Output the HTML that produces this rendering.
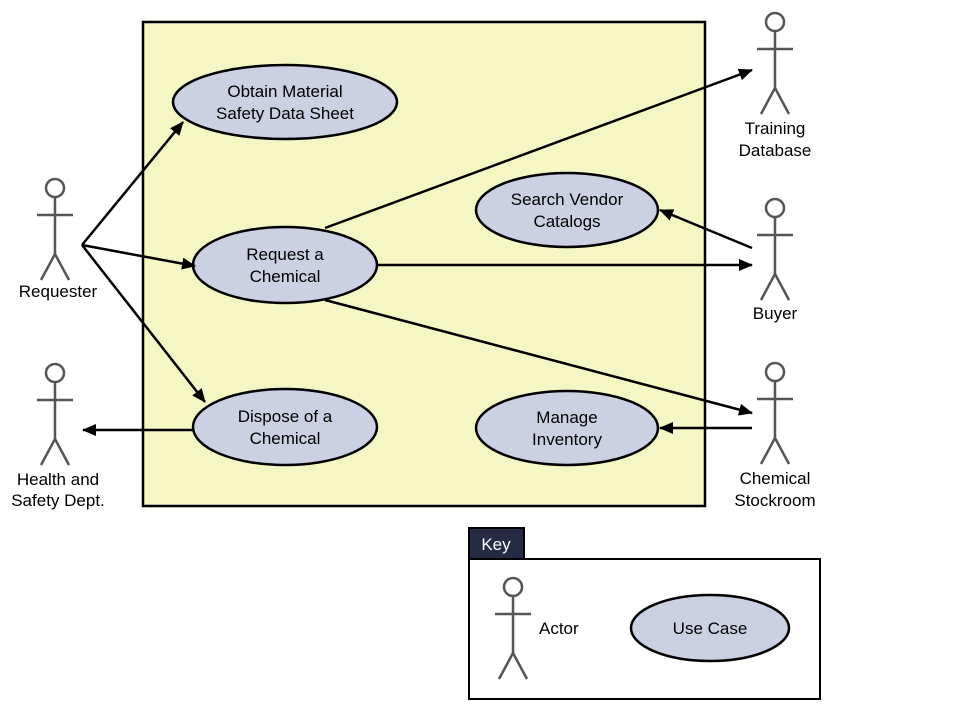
<!DOCTYPE html>
<html><head><meta charset="utf-8"><style>body{margin:0;background:#fff}svg{display:block}</style></head><body>
<svg width="972" height="717" viewBox="0 0 972 717" xmlns="http://www.w3.org/2000/svg" font-family="Liberation Sans, sans-serif" font-size="17">
<defs><marker id="a" markerWidth="10" markerHeight="10" refX="9" refY="5" orient="auto" markerUnits="userSpaceOnUse" viewBox="0 0 10 10"><path d="M0,0 L10,5 L0,10 z" fill="#000"/></marker>
<marker id="ah" markerWidth="14" markerHeight="12" refX="13" refY="6" orient="auto" markerUnits="userSpaceOnUse"><path d="M0,0 L14,6 L0,12 z" fill="#000"/></marker>
<g id="actor" stroke="#555" stroke-width="2.5" fill="none"><circle cx="0" cy="0" r="9"/><line x1="0" y1="9" x2="0" y2="66"/><line x1="-18" y1="27" x2="18" y2="27"/><line x1="0" y1="66" x2="-14" y2="92"/><line x1="0" y1="66" x2="14" y2="92"/></g></defs>
<rect x="143" y="22" width="562" height="484" fill="#f4f6c4" stroke="#000" stroke-width="2.5"/>
<g fill="#ccd0e3" stroke="#000" stroke-width="2.5">
<ellipse cx="285" cy="102" rx="112" ry="37"/><ellipse cx="285" cy="265" rx="92" ry="38"/><ellipse cx="285" cy="427" rx="92" ry="38"/>
<ellipse cx="567" cy="210" rx="91" ry="37"/><ellipse cx="567" cy="428" rx="91" ry="37"/></g>
<g stroke="#000" stroke-width="2.5" marker-end="url(#ah)">
<line x1="82" y1="245" x2="183" y2="122"/><line x1="82" y1="245" x2="195" y2="266"/><line x1="82" y1="245" x2="205" y2="402"/>
<line x1="325" y1="228" x2="752" y2="70"/><line x1="378" y1="265" x2="752" y2="265"/><line x1="325" y1="300" x2="752" y2="413"/>
<line x1="752" y1="248" x2="660" y2="210"/><line x1="752" y1="428" x2="660" y2="428"/><line x1="193" y1="430" x2="83" y2="430"/></g>
<use href="#actor" x="55" y="188"/><use href="#actor" x="55" y="373"/><use href="#actor" x="775" y="22"/><use href="#actor" x="775" y="208"/><use href="#actor" x="775" y="372"/>
<g text-anchor="middle" fill="#000">
<text x="285" y="97">Obtain Material</text><text x="285" y="119">Safety Data Sheet</text>
<text x="285" y="260">Request a</text><text x="285" y="282">Chemical</text>
<text x="285" y="422">Dispose of a</text><text x="285" y="444">Chemical</text>
<text x="567" y="205">Search Vendor</text><text x="567" y="227">Catalogs</text>
<text x="567" y="423">Manage</text><text x="567" y="445">Inventory</text>
<text x="58" y="297">Requester</text>
<text x="58" y="485">Health and</text><text x="58" y="506">Safety Dept.</text>
<text x="775" y="134">Training</text><text x="775" y="156">Database</text>
<text x="775" y="319">Buyer</text>
<text x="775" y="484">Chemical</text><text x="775" y="506">Stockroom</text>
</g>
<rect x="469" y="559" width="351" height="140" fill="#fff" stroke="#000" stroke-width="2"/>
<rect x="469" y="528" width="55" height="31" fill="#262b45" stroke="#000" stroke-width="2"/>
<text x="496" y="550" text-anchor="middle" fill="#fff">Key</text>
<use href="#actor" x="513" y="587"/>
<text x="539" y="634">Actor</text>
<ellipse cx="710" cy="628" rx="79" ry="33" fill="#ccd0e3" stroke="#000" stroke-width="2.5"/>
<text x="710" y="634" text-anchor="middle">Use Case</text>
</svg>
</body></html>
